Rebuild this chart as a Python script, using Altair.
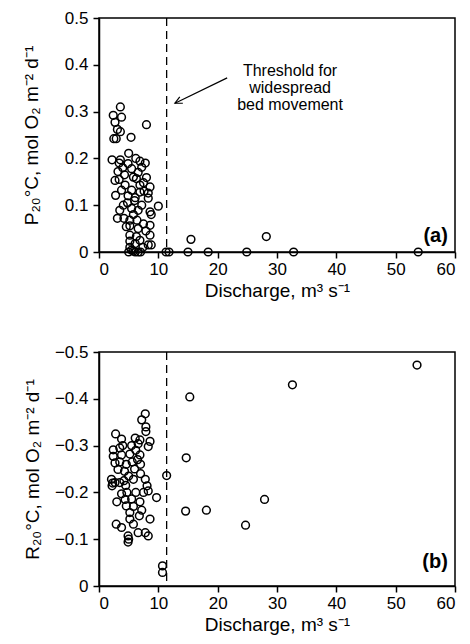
import altair as alt
import pandas as pd

# ---- data ----
top_x = [3.6, 2.4, 3.8, 2.7, 8.0, 3.1, 3.6, 2.5, 2.9, 5.4,
         5.0, 2.2, 3.6, 6.9, 3.4, 4.9, 5.5, 7.2, 3.2, 2.7, 3.4, 6.3, 8.0, 7.5, 4.4,
         5.5, 8.6, 6.9, 2.8, 4.9, 6.1, 8.3, 8.3, 6.9, 3.8,
         4.3, 5.8, 6.6, 7.8, 4.0, 6.2, 7.6, 6.0, 4.8, 7.2, 5.8, 7.5, 7.9, 6.9, 7.4,
         10.0, 4.1, 3.5, 5.5, 6.6, 8.6, 3.1, 4.2, 5.2, 6.4, 8.8, 4.6, 5.2, 6.6, 8.6,
         5.2, 6.3, 8.6, 5.2, 6.1, 8.3, 8.8, 5.2, 5.5, 6.1, 6.6, 5.0, 5.8, 7.0,
         11.3, 11.8, 15.0, 15.5, 18.4, 24.9, 28.2, 32.8, 53.8]
top_y = [0.310, 0.292, 0.288, 0.277, 0.272, 0.262, 0.257, 0.242, 0.242, 0.245,
         0.211, 0.197, 0.197, 0.194, 0.190, 0.189, 0.178, 0.181, 0.172, 0.153, 0.155, 0.157, 0.159, 0.148, 0.143,
         0.132, 0.139, 0.143, 0.121, 0.120, 0.116, 0.126, 0.115, 0.128, 0.132,
         0.165, 0.160, 0.170, 0.190, 0.180, 0.200, 0.130, 0.110, 0.105, 0.100, 0.080, 0.060, 0.045, 0.025, 0.010,
         0.098, 0.100, 0.089, 0.093, 0.089, 0.086, 0.072, 0.072, 0.068, 0.068, 0.080, 0.054, 0.056, 0.050, 0.057,
         0.036, 0.033, 0.036, 0.023, 0.018, 0.015, 0.015, 0.010, 0.004, 0.000, 0.000, 0.000, 0.002, 0.000,
         0.000, 0.000, 0.000, 0.027, 0.000, 0.000, 0.033, 0.000, 0.000]

bot_x = [7.8, 7.2, 7.9, 7.9, 2.8, 3.8, 6.1, 6.9, 8.6, 2.4, 3.5, 5.5, 6.6, 8.3,
         2.4, 3.8, 5.2, 6.9, 2.7, 3.5, 4.6, 3.2, 4.3, 2.1, 2.7, 2.2, 3.5, 4.2, 5.8,
         7.8, 8.1, 8.3, 9.7, 3.8, 4.7, 6.2, 4.4, 5.5, 6.9, 4.6, 5.8, 5.2, 7.2, 5.2,
         8.6, 5.8, 2.9, 3.8, 4.9, 6.6, 7.8, 8.3, 4.9, 5.0,
         4.5, 5.0, 6.0, 6.5, 7.0, 5.6, 6.2, 4.0, 2.3, 3.0, 6.8, 7.5, 7.0,
         11.4, 10.7, 10.7, 14.7, 15.3, 14.6, 18.1, 24.7, 27.9, 32.6, 53.6]
bot_y = [-0.368, -0.355, -0.340, -0.330, -0.325, -0.314, -0.316, -0.312, -0.309, -0.291, -0.295, -0.300, -0.304, -0.298,
         -0.277, -0.280, -0.282, -0.280, -0.263, -0.265, -0.260, -0.249, -0.245, -0.228, -0.221, -0.214, -0.221, -0.225, -0.228,
         -0.228, -0.214, -0.203, -0.189, -0.197, -0.200, -0.200, -0.185, -0.186, -0.180, -0.171, -0.170, -0.157, -0.162, -0.143,
         -0.143, -0.132, -0.132, -0.125, -0.107, -0.114, -0.114, -0.107, -0.094, -0.100,
         -0.215, -0.235, -0.250, -0.270, -0.260, -0.265, -0.290, -0.300, -0.220, -0.180, -0.150, -0.200, -0.240,
         -0.236, -0.043, -0.029, -0.274, -0.404, -0.160, -0.162, -0.130, -0.185, -0.430, -0.472]

threshold = [11.4]
x_ticks = [0, 10, 20, 30, 40, 50, 60]
top_ticks = [0, 0.1, 0.2, 0.3, 0.4, 0.5]
bot_ticks = [0, -0.1, -0.2, -0.3, -0.4, -0.5]
note_lines = ["Threshold for", "widespread", "bed movement"]
note_x = [32.2, 32.2, 32.2]
note_y = [0.386, 0.350, 0.314]
arrow_x = [21.6, 12.8]
arrow_y = [0.372, 0.318]
panel_labels = ["(a)", "(b)"]

FONT = "Liberation Sans"
W, H = 356, 234

top_df = pd.DataFrame({"x": top_x, "y": top_y})
bot_df = pd.DataFrame({"x": bot_x, "y": bot_y})
thr_df = pd.DataFrame({"x": threshold})

xscale = alt.Scale(domain=[0, 60], nice=False)
xaxis = alt.Axis(values=x_ticks, title="Discharge, m³ s⁻¹", labelPadding=3, titlePadding=4)
lab_expr = "datum.value == 0 ? '0' : format(datum.value, '.1f')"

def panel(df, ydomain, yticks, ytitle, tpad, label, label_y):
    yscale = alt.Scale(domain=ydomain, nice=False)
    yaxis = alt.Axis(values=yticks, title=ytitle, labelExpr=lab_expr,
                     labelPadding=5, titlePadding=tpad)
    pts = alt.Chart(df).mark_point(filled=False, color="black", size=60,
                                   strokeWidth=1.5, opacity=1).encode(
        x=alt.X("x:Q", scale=xscale, axis=xaxis),
        y=alt.Y("y:Q", scale=yscale, axis=yaxis),
    )
    rule = alt.Chart(thr_df).mark_rule(color="black", strokeWidth=1.3,
                                       strokeDash=[8, 5]).encode(
        x=alt.X("x:Q", scale=xscale)
    )
    lab = alt.Chart(pd.DataFrame({"t": [label], "x": [58.8], "y": [label_y]})).mark_text(
        font=FONT, fontSize=20, fontWeight="bold", align="right", baseline="alphabetic",
        color="black").encode(
        x=alt.X("x:Q", scale=xscale), y=alt.Y("y:Q", scale=yscale), text="t:N")
    return pts, rule, lab, yscale

p1, r1, l1, ys1 = panel(top_df, [0, 0.5], top_ticks,
                        "P₂₀°C, mol O₂ m⁻² d⁻¹", 23, panel_labels[0], 0.022)
note = alt.Chart(pd.DataFrame({"t": note_lines, "x": note_x, "y": note_y})).mark_text(
    font=FONT, fontSize=16, color="black", align="center", baseline="middle").encode(
    x=alt.X("x:Q", scale=xscale), y=alt.Y("y:Q", scale=ys1), text="t:N")
arrow_df = pd.DataFrame({"x": [arrow_x[0]], "y": [arrow_y[0]], "x2": [arrow_x[1]], "y2": [arrow_y[1]]})
arrow_line = alt.Chart(arrow_df).mark_rule(color="black", strokeWidth=1.2).encode(
    x=alt.X("x:Q", scale=xscale), y=alt.Y("y:Q", scale=ys1), x2="x2:Q", y2="y2:Q")
head = alt.Chart(pd.DataFrame({"x": [arrow_x[1]], "y": [arrow_y[1]]})).mark_point(
    shape="M-0.5,1L0,0L0.5,1", filled=False, color="black", strokeWidth=1.2,
    size=200, angle=244, opacity=1).encode(
    x=alt.X("x:Q", scale=xscale), y=alt.Y("y:Q", scale=ys1))

top = alt.layer(p1, r1, note, arrow_line, head, l1).properties(width=W, height=H)

p2, r2, l2, ys2 = panel(bot_df, [0, -0.5], bot_ticks,
                        "R₂₀°C, mol O₂ m⁻² d⁻¹", 12, panel_labels[1], -0.038)
bottom = alt.layer(p2, r2, l2).properties(width=W, height=H)

chart = alt.vconcat(top, bottom, spacing=41).configure_view(
    stroke="black", strokeWidth=1.5
).configure_axis(
    labelFont=FONT, titleFont=FONT, labelFontSize=17, titleFontSize=19,
    labelColor="black", titleColor="black", domainColor="black", tickColor="black",
    domainWidth=1.5, tickWidth=1.5, tickSize=6, grid=False, titleFontWeight="normal"
).properties(background="white", padding={"left": 13, "top": 0, "right": 0, "bottom": 0})

chart.save("out.html", embed_options={"renderer": "svg", "actions": False})
